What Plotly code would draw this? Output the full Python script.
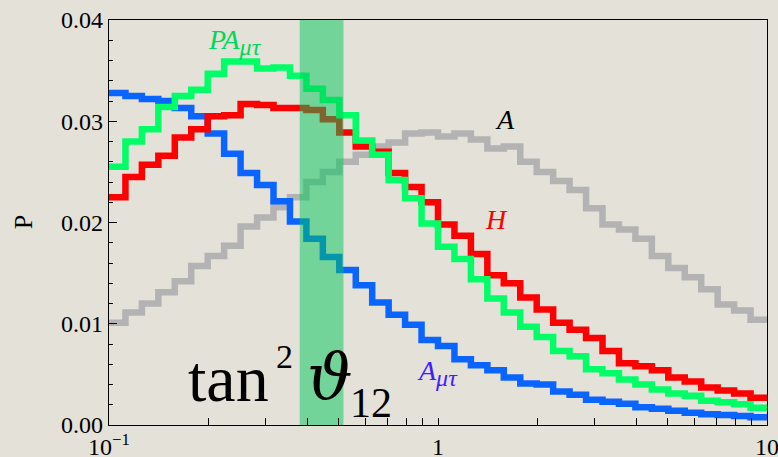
import plotly.graph_objects as go

# Bin edges: 40 logarithmic bins from 10^-1 to 10^1
bin_edges = [10 ** (-1 + 0.05 * k) for k in range(41)]

# P values per bin
A_mutau = [0.0328, 0.0325, 0.0322, 0.0320, 0.0313, 0.0305, 0.0288, 0.0268, 0.0249, 0.0237,
           0.0221, 0.0201, 0.0184, 0.0166, 0.0153, 0.0138, 0.0121, 0.0109, 0.0099, 0.0084,
           0.0078, 0.0065, 0.0059, 0.0054, 0.0047, 0.0041, 0.0040, 0.0033, 0.0030, 0.0025,
           0.0023, 0.0021, 0.00175, 0.0016, 0.0014, 0.0012, 0.00106, 0.00099, 0.00089, 0.00076]
PA_mutau = [0.0255, 0.0280, 0.0292, 0.0314, 0.0325, 0.0331, 0.0347, 0.0359, 0.0359, 0.0352,
            0.0353, 0.0345, 0.0332, 0.0321, 0.0306, 0.0281, 0.0267, 0.0242, 0.0224, 0.0199,
            0.0176, 0.0164, 0.0144, 0.0125, 0.0111, 0.0097, 0.0087, 0.0073, 0.0068, 0.0055,
            0.0051, 0.0045, 0.0040, 0.0035, 0.0031, 0.0029, 0.0024, 0.00225, 0.00205, 0.0017]
H_vals = [0.0225, 0.0245, 0.0257, 0.0266, 0.0284, 0.0292, 0.0305, 0.0306, 0.0317, 0.0316,
          0.0313, 0.0313, 0.0311, 0.0302, 0.0289, 0.0275, 0.0270, 0.0249, 0.0235, 0.0220,
          0.0198, 0.0187, 0.0169, 0.0148, 0.0140, 0.0126, 0.0114, 0.0101, 0.0094, 0.0086,
          0.0073, 0.0061, 0.0058, 0.0054, 0.0047, 0.0043, 0.0037, 0.0034, 0.0031, 0.0027]
A_vals = [0.0101, 0.0111, 0.0120, 0.0131, 0.0142, 0.0157, 0.0167, 0.0177, 0.0196, 0.0205,
          0.0215, 0.0225, 0.0240, 0.0250, 0.0260, 0.0267, 0.0275, 0.0279, 0.0288, 0.0289,
          0.0285, 0.0288, 0.0282, 0.0273, 0.0275, 0.0260, 0.0250, 0.0241, 0.0232, 0.0214,
          0.0198, 0.0193, 0.0184, 0.0167, 0.0155, 0.0146, 0.0134, 0.0119, 0.0113, 0.0104]

band_range = [0.38, 0.516]
y_range = [0.0, 0.04]

y_tickvals = [0.00, 0.01, 0.02, 0.03, 0.04]
y_ticktext = ["0.00", "0.01", "0.02", "0.03", "0.04"]
x_tickvals = [0.1, 1, 10]
x_ticktext = ["10<sup>\u22121</sup>", "1", "10"]

BG = "#e4e1d9"
SERIF = "Liberation Serif"
GREEK = "DejaVu Serif"

fig = go.Figure()

series = [
    (A_vals, "#b3b3b3"),
    (A_mutau, "#0a64ff"),
    (H_vals, "#ff0000"),
    (PA_mutau, "#00ff66"),
]
for vals, color in series:
    fig.add_trace(go.Scatter(
        x=bin_edges, y=vals + [vals[-1]], mode="lines",
        line=dict(color=color, width=6.5, shape="hv"),
        showlegend=False, hoverinfo="skip"))

# shaded band
fig.add_trace(go.Scatter(
    x=[band_range[0], band_range[1], band_range[1], band_range[0], band_range[0]],
    y=[y_range[0], y_range[0], y_range[1], y_range[1], y_range[0]],
    mode="lines", fill="toself", fillcolor="rgba(0,200,90,0.5)",
    line=dict(width=0), showlegend=False, hoverinfo="skip"))

L, R, T, B = 108.7, 11.3, 20, 32
W, Hh = 778, 457
pw, ph = W - L - R, Hh - T - B

def px(x):
    return (x - L) / pw

def py(y):
    return (Hh - B - y) / ph

SUB = "<sub><span style='font-size:24px'><i>\u03bc\u03c4</i></span></sub>"

annotations = [
    dict(text="<i>PA</i>" + SUB, x=px(206), y=py(42), xanchor="left", yanchor="middle",
         font=dict(size=28, color="#00d85a", family=SERIF)),
    dict(text="<i>A</i>", x=px(493), y=py(119), xanchor="left", yanchor="middle",
         font=dict(size=28, color="black", family=SERIF)),
    dict(text="<i>H</i>", x=px(483), y=py(219), xanchor="left", yanchor="middle",
         font=dict(size=28, color="#ff0000", family=SERIF)),
    dict(text="<i>A</i>" + SUB, x=px(415), y=py(373), xanchor="left", yanchor="middle",
         font=dict(size=28, color="#3f1fff", family=SERIF)),
    dict(text="P", x=px(23), y=py(222), textangle=-90, xanchor="center", yanchor="middle",
         font=dict(size=26, color="black", family=SERIF)),
    dict(text="tan", x=px(186), y=py(417), xanchor="left", yanchor="bottom",
         font=dict(size=66, color="black", family=SERIF)),
    dict(text="2", x=px(274), y=py(377), xanchor="left", yanchor="bottom",
         font=dict(size=34, color="black", family=SERIF)),
    dict(text="<i>\u03d1</i>", x=px(305), y=py(415), xanchor="left", yanchor="bottom",
         font=dict(size=64, color="black", family=GREEK)),
    dict(text="12", x=px(348), y=py(428), xanchor="left", yanchor="bottom",
         font=dict(size=42, color="black", family=SERIF)),
]
for a in annotations:
    a.update(xref="paper", yref="paper", showarrow=False)

x_minor = [m * 10 ** d for d in (-1, 0) for m in range(2, 10)]

fig.update_layout(
    width=W, height=Hh,
    margin=dict(l=L, r=R, t=T, b=B, autoexpand=False),
    paper_bgcolor=BG, plot_bgcolor=BG,
    annotations=annotations,
    font=dict(family=SERIF, color="black"),
    xaxis=dict(type="log", range=[-1, 1], showgrid=False, zeroline=False, automargin=False,
               showline=True, linecolor="black", linewidth=1.3, mirror=True,
               ticks="inside", ticklen=7, tickwidth=1, tickcolor="black",
               tickmode="array", tickvals=x_tickvals, ticktext=x_ticktext,
               ticklabeloverflow="allow",
               tickfont=dict(size=24, family=SERIF, color="black"),
               minor=dict(tickmode="array", tickvals=x_minor, ticks="inside",
                          ticklen=7, tickwidth=1, tickcolor="black", showgrid=False)),
    yaxis=dict(range=y_range, showgrid=False, zeroline=False, automargin=False,
               showline=True, linecolor="black", linewidth=1.3, mirror=True,
               ticks="inside", ticklen=8, tickwidth=1, tickcolor="black",
               tickmode="array", tickvals=y_tickvals, ticktext=y_ticktext,
               ticklabeloverflow="allow",
               tickfont=dict(size=24, family=SERIF, color="black"),
               minor=dict(dtick=0.002, ticks="inside", ticklen=4, tickwidth=1,
                          tickcolor="black", showgrid=False)),
)

fig.write_html("out.html")
